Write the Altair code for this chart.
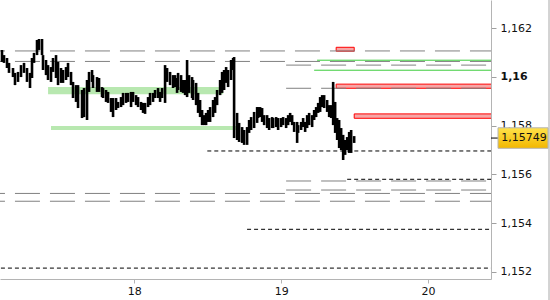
import altair as alt
import pandas as pd

# ---------------- data ----------------
bar_days = [17.0981, 17.1118, 17.1322, 17.1458, 17.1731, 17.1867, 17.2072, 17.2276, 17.2481, 17.2685,
            17.2890, 17.3026, 17.3163, 17.3367, 17.3503, 17.3708, 17.3776, 17.3981, 17.4117, 17.4321,
            17.4458, 17.4662, 17.4799, 17.5003, 17.5139, 17.5344, 17.5480, 17.5685, 17.5821, 17.6026,
            17.6162, 17.6435, 17.6571, 17.6775, 17.6912, 17.7116, 17.7184, 17.7457, 17.7593, 17.7798,
            17.7866, 17.8071, 17.8207, 17.8411, 17.8548, 17.8752, 17.8889, 17.9093, 17.9229, 17.9434,
            17.9570, 17.9775, 17.9911, 18.0116, 18.0252, 18.0456, 18.0593, 18.0729, 18.0934, 18.1070,
            18.1274, 18.1411, 18.1615, 18.1752, 18.1888, 18.2092, 18.2229, 18.2433, 18.2638, 18.2774,
            18.2910, 18.2979, 18.3183, 18.3319, 18.3456, 18.3592, 18.3728, 18.3933, 18.4001, 18.4206,
            18.4342, 18.4478, 18.4615, 18.4751, 18.4887, 18.5024, 18.5160, 18.5364, 18.5501, 18.5637,
            18.5842, 18.5978, 18.6114, 18.6251, 18.6387, 18.6591, 18.6728, 18.6796, 18.7000, 18.7137,
            18.7341, 18.7478, 18.7682, 18.7818, 18.7955, 18.8159, 18.8364, 18.8432, 18.8568, 18.8704,
            18.8841, 18.9045, 18.9182, 18.9386, 18.9454, 18.9659, 18.9795, 19.0000, 19.0136, 19.0340,
            19.0477, 19.0613, 19.0750, 19.0886, 19.1090, 19.1158, 19.1363, 19.1499, 19.1636, 19.1772,
            19.1908, 19.2113, 19.2249, 19.2385, 19.2522, 19.2658, 19.2794, 19.2931, 19.3135, 19.3272,
            19.3408, 19.3544, 19.3681, 19.3817, 19.3953, 19.4090, 19.4226, 19.4362, 19.4499, 19.4635,
            19.4771, 19.4976]
highs = [1.16110, 1.16089, 1.16077, 1.16057, 1.16036, 1.16016, 1.16020, 1.16048, 1.16057, 1.16036,
         1.16016, 1.16077, 1.16098, 1.16151, 1.16155, 1.16155, 1.16089, 1.16069, 1.16048, 1.16040,
         1.16077, 1.16089, 1.16061, 1.16036, 1.16028, 1.16040, 1.16057, 1.16020, 1.15979, 1.15966,
         1.15966, 1.15946, 1.15954, 1.15987, 1.16020, 1.16028, 1.16007, 1.15999, 1.15995, 1.15958,
         1.15954, 1.15946, 1.15938, 1.15913, 1.15913, 1.15913, 1.15897, 1.15917, 1.15934, 1.15934,
         1.15934, 1.15938, 1.15938, 1.15925, 1.15917, 1.15897, 1.15893, 1.15893, 1.15917, 1.15934,
         1.15934, 1.15946, 1.15954, 1.15938, 1.15954, 1.16048, 1.16036, 1.16020, 1.16007, 1.16007,
         1.15995, 1.16016, 1.16007, 1.15987, 1.15987, 1.16069, 1.16007, 1.15999, 1.15987, 1.15975,
         1.15934, 1.15905, 1.15864, 1.15843, 1.15852, 1.15864, 1.15876, 1.15905, 1.15917, 1.15946,
         1.15987, 1.16020, 1.16028, 1.16040, 1.16028, 1.16069, 1.16077, 1.16081, 1.15852, 1.15811,
         1.15794, 1.15782, 1.15794, 1.15823, 1.15835, 1.15856, 1.15876, 1.15876, 1.15876, 1.15872,
         1.15843, 1.15843, 1.15831, 1.15835, 1.15831, 1.15835, 1.15831, 1.15831, 1.15835, 1.15831,
         1.15843, 1.15852, 1.15843, 1.15815, 1.15815, 1.15802, 1.15815, 1.15831, 1.15815, 1.15843,
         1.15852, 1.15843, 1.15864, 1.15876, 1.15893, 1.15917, 1.15925, 1.15925, 1.15905, 1.15884,
         1.15884, 1.15979, 1.15897, 1.15831, 1.15823, 1.15790, 1.15762, 1.15741, 1.15753, 1.15774,
         1.15782, 1.15757]
lows = [1.16061, 1.16057, 1.16036, 1.16016, 1.15999, 1.15966, 1.15979, 1.15999, 1.16016, 1.15979,
        1.15954, 1.15995, 1.16057, 1.16089, 1.16110, 1.16089, 1.16028, 1.16007, 1.15987, 1.15979,
        1.16020, 1.15995, 1.15966, 1.15975, 1.15975, 1.15987, 1.15999, 1.15966, 1.15913, 1.15897,
        1.15872, 1.15831, 1.15835, 1.15823, 1.15938, 1.15979, 1.15954, 1.15938, 1.15938, 1.15917,
        1.15913, 1.15897, 1.15893, 1.15856, 1.15835, 1.15864, 1.15872, 1.15876, 1.15884, 1.15893,
        1.15897, 1.15876, 1.15897, 1.15884, 1.15876, 1.15864, 1.15852, 1.15848, 1.15876, 1.15884,
        1.15897, 1.15913, 1.15913, 1.15897, 1.15913, 1.15893, 1.15979, 1.15966, 1.15954, 1.15958,
        1.15934, 1.15946, 1.15938, 1.15934, 1.15925, 1.15917, 1.15934, 1.15913, 1.15905, 1.15884,
        1.15852, 1.15835, 1.15802, 1.15802, 1.15802, 1.15815, 1.15815, 1.15835, 1.15852, 1.15884,
        1.15925, 1.15934, 1.15946, 1.15975, 1.15958, 1.15987, 1.16028, 1.15749, 1.15741, 1.15733,
        1.15729, 1.15721, 1.15721, 1.15770, 1.15782, 1.15790, 1.15811, 1.15831, 1.15835, 1.15815,
        1.15802, 1.15790, 1.15782, 1.15790, 1.15790, 1.15794, 1.15782, 1.15794, 1.15802, 1.15790,
        1.15802, 1.15815, 1.15802, 1.15774, 1.15729, 1.15770, 1.15782, 1.15794, 1.15774, 1.15790,
        1.15802, 1.15794, 1.15823, 1.15835, 1.15852, 1.15856, 1.15876, 1.15872, 1.15856, 1.15835,
        1.15831, 1.15802, 1.15770, 1.15741, 1.15708, 1.15700, 1.15659, 1.15680, 1.15700, 1.15688,
        1.15688, 1.15729]

# horizontal levels: (start day, price)
gray_starts = [16.948, 16.948, 19.034, 19.034, 19.034, 19.034, 16.948, 16.948]
gray_prices = [1.16106, 1.16063, 1.16048, 1.15953, 1.15573, 1.15536, 1.15522, 1.15490]
green_starts = [19.245, 19.225]
green_prices = [1.16068, 1.16027]
black_starts = [18.497, 19.450, 18.768, 16.900]
black_prices = [1.15696, 1.15580, 1.15375, 1.15216]
red_starts = [19.375, 19.375, 19.498]
red_ends = [19.498, 20.6, 20.6]
red_tops = [1.16121, 1.15970, 1.15848]
red_bottoms = [1.16105, 1.15953, 1.15830]
band_starts = [17.412, 17.432]
band_ends = [18.605, 18.693]
band_tops = [1.15958, 1.15798]
band_bottoms = [1.15928, 1.15782]
level_end = 20.6
last_price = 1.15749
y_ticks = [1.152, 1.154, 1.156, 1.158, 1.160, 1.162]
x_ticks = [18, 19, 20]

# ---------------- frames ----------------
bars = pd.DataFrame({"t": bar_days, "high": highs, "low": lows})
gray_df = pd.DataFrame({"start": gray_starts, "end": level_end, "price": gray_prices})
green_df = pd.DataFrame({"start": green_starts, "end": level_end, "price": green_prices})
black_df = pd.DataFrame({"start": black_starts, "end": level_end, "price": black_prices})
red_df = pd.DataFrame({"start": red_starts, "end": red_ends, "top": red_tops, "bottom": red_bottoms})
band_df = pd.DataFrame({"start": band_starts, "end": band_ends, "top": band_tops, "bottom": band_bottoms})
last_df = pd.DataFrame({"price": [last_price], "label": ["1,15749"]})

FONT = "DejaVu Sans"
xscale = alt.Scale(domain=[17.0845, 20.43], nice=False, zero=False)
yscale = alt.Scale(domain=[1.151713, 1.163148], nice=False, zero=False)

x_axis = alt.Axis(values=x_ticks, format="d", title=None, grid=False,
                  domainColor="#b4b4b4", tickColor="#b4b4b4", tickSize=4,
                  labelFont=FONT, labelFontSize=11, labelColor="#111111",
                  labelPadding=2, labelFlush=False, labelOverlap=False)
y_axis = alt.Axis(orient="right", values=y_ticks, title=None, grid=False,
                  labelExpr="replace(format(datum.value, '.3~f'), '.', ',')",
                  labelFontWeight={"condition": {"test": "abs(datum.value - 1.16) < 0.0000001",
                                                 "value": "bold"}, "value": "normal"},
                  domainColor="#b4b4b4", tickColor="#a0a0a0", tickSize=5,
                  labelFont=FONT, labelFontSize=11, labelColor="#111111", labelPadding=4,
                  labelOverlap=False, labelFlush=False)

band_layer = alt.Chart(band_df).mark_rect(color="#b8e8b0", clip=True).encode(
    x=alt.X("start:Q", scale=xscale, axis=x_axis, title=None), x2="end:Q",
    y=alt.Y("top:Q", scale=yscale, axis=y_axis, title=None), y2="bottom:Q")

red_layer = alt.Chart(red_df).mark_rect(fill="#f6a6a6", stroke="#ff0000", strokeWidth=1,
                                        clip=True).encode(
    x=alt.X("start:Q", title=None), x2="end:Q",
    y=alt.Y("top:Q", title=None), y2="bottom:Q")

gray_layer = alt.Chart(gray_df).mark_rule(color="#808080", strokeWidth=1,
                                          strokeDash=[25, 10], clip=True).encode(
    x=alt.X("start:Q", title=None), x2="end:Q", y=alt.Y("price:Q", title=None))

green_layer = alt.Chart(green_df).mark_rule(color="#3ccc3c", strokeWidth=1, clip=True).encode(
    x=alt.X("start:Q", title=None), x2="end:Q", y=alt.Y("price:Q", title=None))

black_layer = alt.Chart(black_df).mark_rule(color="#000000", strokeWidth=1,
                                            strokeDash=[4, 3], clip=True).encode(
    x=alt.X("start:Q", title=None), x2="end:Q", y=alt.Y("price:Q", title=None))

bar_layer = alt.Chart(bars).mark_rule(color="#000000", strokeWidth=2.6, clip=True).encode(
    x=alt.X("t:Q", title=None),
    y=alt.Y("low:Q", title=None), y2="high:Q")

tick_layer = alt.Chart(last_df).mark_rule(color="#000000", strokeWidth=1, clip=False).encode(
    x=alt.value(491), x2=alt.value(498), y=alt.Y("price:Q", title=None))

gradient = alt.LinearGradient(gradient="linear",
                              stops=[alt.GradientStop(color="#ffe24a", offset=0),
                                     alt.GradientStop(color="#f2b700", offset=1)],
                              x1=0, x2=0, y1=0, y2=1)
box_layer = alt.Chart(last_df).mark_point(
    shape="M-1,-0.41L1,-0.41L1,0.41L-1,0.41Z", size=2500, filled=True,
    fill=gradient, stroke="#b4b4b4", strokeWidth=1, opacity=1, clip=False).encode(
    x=alt.value(523), y=alt.Y("price:Q", title=None))

text_layer = alt.Chart(last_df).mark_text(font=FONT, fontSize=11, color="#111111",
                                          align="center", baseline="middle",
                                          clip=False).encode(
    x=alt.value(524), y=alt.Y("price:Q", title=None), text="label:N")

frame_layer = alt.Chart(last_df).mark_rule(color="#a8a8a8", strokeWidth=1, clip=False).encode(
    x=alt.value(549), y=alt.value(0), y2=alt.value(300))

chart = alt.layer(
    band_layer, red_layer, gray_layer, green_layer, black_layer, bar_layer,
    tick_layer, box_layer, text_layer, frame_layer
).properties(
    width=491, height=279,
    autosize=alt.AutoSizeParams(type="none"),
    padding={"left": 0, "top": 0, "right": 59, "bottom": 21},
    background="white",
).configure_view(stroke=None)

chart.save("out.html", embed_options={"renderer": "svg", "actions": False})
